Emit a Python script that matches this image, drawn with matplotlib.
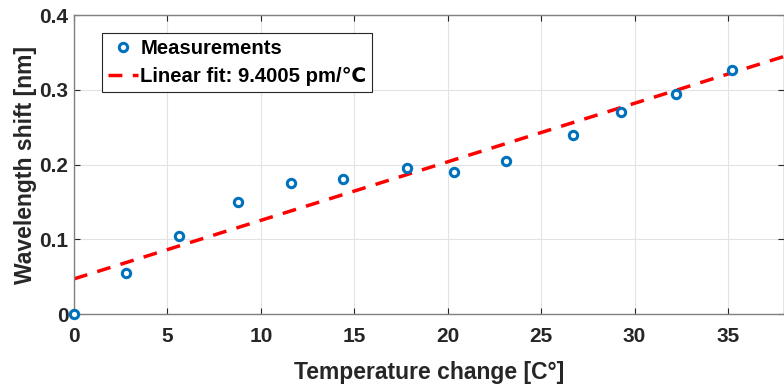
import matplotlib
matplotlib.use('Agg')
import matplotlib.pyplot as plt
import numpy as np

plt.rcParams['font.family'] = ['Liberation Sans', 'DejaVu Sans']
plt.rcParams['font.weight'] = 'bold'

# measured data
temp_change = [0, 2.8, 5.6, 8.8, 11.6, 14.4, 17.8, 20.35, 23.1, 26.7, 29.3, 32.2, 35.2]
wl_shift = [0, 0.055, 0.105, 0.15, 0.175, 0.18, 0.195, 0.19, 0.205, 0.24, 0.27, 0.295, 0.326]

# fitted line as drawn
fit_intercept = 0.047
fit_slope = 0.00783
fit_x = [0, 38]

x_ticks = [0, 5, 10, 15, 20, 25, 30, 35]
y_ticks = [0, 0.1, 0.2, 0.3, 0.4]
y_ticklabels = ['0', '0.1', '0.2', '0.3', '0.4']

fig = plt.figure(figsize=(7.84, 3.85), dpi=100)
ax = fig.add_axes([0.0944, 0.1844, 0.9056, 0.7766])

ax.plot(temp_change, wl_shift, 'o', color='#0072BD', mfc='white', mec='#0072BD',
        ms=6, mew=2.2, label='Measurements', zorder=3, clip_on=False)
fx = np.array(fit_x)
ax.plot(fx, fit_intercept + fit_slope * fx, '--', color='red', lw=2.5,
        dashes=(4, 3), label='Linear fit: 9.4005 pm/\u2103', zorder=2)

ax.set_xlim(0, 38)
ax.set_ylim(0, 0.4)
ax.set_xticks(x_ticks)
ax.set_yticks(y_ticks)
ax.set_yticklabels(y_ticklabels)
ax.grid(True, color='#e3e3e3', lw=0.8)
ax.set_axisbelow(True)
ax.tick_params(direction='in', top=True, right=True, labelsize=15, colors='#262626',
               length=4, width=0.8)
ax.tick_params(axis='x', pad=9)
ax.tick_params(axis='y', pad=4)
for lab in ax.get_xticklabels() + ax.get_yticklabels():
    lab.set_fontweight('bold')
for s in ax.spines.values():
    s.set_color('#808080')
    s.set_linewidth(1.0)

ax.set_xlabel('Temperature change [C\u00b0]', fontsize=16.5, fontweight='bold',
              color='#262626', labelpad=11)
ax.set_ylabel('Wavelength shift [nm]', fontsize=16.5, fontweight='bold',
              color='#262626', labelpad=2)

leg = ax.legend(loc='upper left', bbox_to_anchor=(0.039, 0.94), fontsize=14.6,
                fancybox=False, edgecolor='#262626', framealpha=1,
                handlelength=1.5, handletextpad=0.1, borderpad=0.3,
                labelspacing=0.45, borderaxespad=0)
leg.get_frame().set_linewidth(0.8)
for t in leg.get_texts():
    t.set_fontweight('bold')

fig.savefig('out.png', dpi=100)
